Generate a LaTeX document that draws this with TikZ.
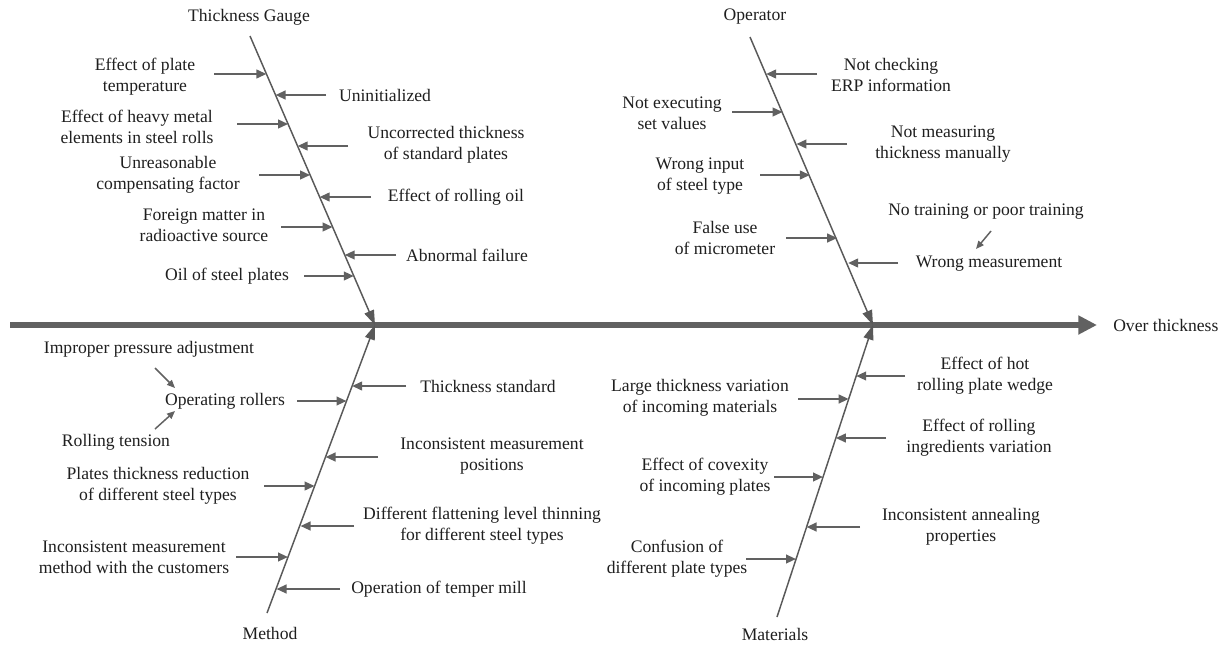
\documentclass[tikz,border=0pt]{standalone}
\usepackage{fontspec}
\setmainfont{Liberation Serif}
\newfontfamily\lbfont{Liberation Serif}
\usetikzlibrary{arrows.meta}
\begin{document}
\begin{tikzpicture}[x=0.75pt,y=-0.75pt,
  lbl/.style={font=\lbfont\fontsize{13.2}{15.75}\selectfont, align=center, inner sep=0pt, text=black!88},
  spine/.style={line width=3.8pt, draw=black!62, -{Triangle[length=14pt,width=13.5pt]}},
  bone/.style={line width=1.1pt, draw=black!65, -{Triangle[length=11pt,width=7.5pt]}},
  cause/.style={line width=1.5pt, draw=black!62, -{Triangle[length=7.5pt,width=6.5pt]}},
  sub/.style={line width=1.1pt, draw=black!62, -{Triangle[length=6pt,width=5pt]}}]
\path[use as bounding box] (0,0) rectangle (1230,646);
\fill[white] (0,0) rectangle (1230,646);

% spine
\coordinate (s0) at (10,325);
\coordinate (s1) at (1097,325);
\coordinate (j1) at (375,325);
\coordinate (j2) at (873,325);
\draw[spine] (s0) -- (s1);
\node[lbl, anchor=west] (effect) at (1113,325) {Over thickness};

% bones
\coordinate (b1) at (250,36);
\coordinate (b2) at (750,37);
\coordinate (b3) at (267,613);
\coordinate (b4) at (777,617);
\draw[bone] (b1) -- (j1);
\draw[bone] (b2) -- (j2);
\draw[bone] (b3) -- (j1);
\draw[bone] (b4) -- (j2);
\node[lbl] (cat1) at (249,17) {Thickness Gauge};
\node[lbl] (cat2) at (755,17) {Operator};
\node[lbl] (cat3) at (270,633) {Method};
\node[lbl] (cat4) at (775,634) {Materials};

% ---- Thickness Gauge
\node[lbl] (g1) at (145,77) {Effect of plate\\temperature};
\coordinate (g1a) at (214,74); \coordinate (g1b) at (266.4,74);
\draw[cause] (g1a) -- (g1b);
\node[lbl] (g2) at (385,95) {Uninitialized};
\coordinate (g2a) at (326,95); \coordinate (g2b) at (275.5,95);
\draw[cause] (g2a) -- (g2b);
\node[lbl] (g3) at (137,127) {Effect of heavy metal\\elements in steel rolls};
\coordinate (g3a) at (237,124); \coordinate (g3b) at (288.1,124);
\draw[cause] (g3a) -- (g3b);
\node[lbl] (g4) at (446,145) {Uncorrected thickness\\of standard plates};
\coordinate (g4a) at (348,146); \coordinate (g4b) at (297.6,146);
\draw[cause] (g4a) -- (g4b);
\node[lbl] (g5) at (168,175) {Unreasonable\\compensating factor};
\coordinate (g5a) at (259,175); \coordinate (g5b) at (310.1,175);
\draw[cause] (g5a) -- (g5b);
\node[lbl] (g6) at (456,197) {Effect of rolling oil};
\coordinate (g6a) at (371,197); \coordinate (g6b) at (319.6,197);
\draw[cause] (g6a) -- (g6b);
\node[lbl] (g7) at (204,225) {Foreign matter in\\radioactive source};
\coordinate (g7a) at (281,227); \coordinate (g7b) at (332.6,227);
\draw[cause] (g7a) -- (g7b);
\node[lbl] (g8) at (467,255) {Abnormal failure};
\coordinate (g8a) at (396,255); \coordinate (g8b) at (344.7,255);
\draw[cause] (g8a) -- (g8b);
\node[lbl] (g9) at (227,276) {Oil of steel plates};
\coordinate (g9a) at (304,276); \coordinate (g9b) at (353.8,276);
\draw[cause] (g9a) -- (g9b);

% ---- Operator
\node[lbl] (o1) at (891,75) {Not checking\\ERP information};
\coordinate (o1a) at (817,74); \coordinate (o1b) at (766.1,74);
\draw[cause] (o1a) -- (o1b);
\node[lbl] (o2) at (672,113) {Not executing\\set values};
\coordinate (o2a) at (732,112); \coordinate (o2b) at (782.6,112);
\draw[cause] (o2a) -- (o2b);
\node[lbl] (o3) at (943,144) {Not measuring\\thickness manually};
\coordinate (o3a) at (847,144); \coordinate (o3b) at (796.4,144);
\draw[cause] (o3a) -- (o3b);
\node[lbl] (o4) at (700,176) {Wrong input\\of steel type};
\coordinate (o4a) at (760,175); \coordinate (o4b) at (809.9,175);
\draw[cause] (o4a) -- (o4b);
\node[lbl] (o5) at (986,212) {No training or poor training};
\node[lbl] (o6) at (725,238) {False use\\of micrometer};
\coordinate (o6a) at (786,238); \coordinate (o6b) at (837.2,238);
\draw[cause] (o6a) -- (o6b);
\node[lbl] (o7) at (989,264) {Wrong measurement};
\coordinate (o7a) at (898,263); \coordinate (o7b) at (848.1,263);
\draw[cause] (o7a) -- (o7b);
\coordinate (o5a) at (991,231); \coordinate (o5b) at (976,249);
\draw[sub] (o5a) -- (o5b);

% ---- Method
\node[lbl] (m1) at (149,349) {Improper pressure adjustment};
\node[lbl] (m2) at (225,401) {Operating rollers};
\coordinate (m2a) at (297,401); \coordinate (m2b) at (346.5,401);
\draw[cause] (m2a) -- (m2b);
\node[lbl] (m3) at (116,442) {Rolling tension};
\coordinate (m1a) at (155,368); \coordinate (m1b) at (175,388);
\draw[sub] (m1a) -- (m1b);
\coordinate (m3a) at (155,429); \coordinate (m3b) at (175,411);
\draw[sub] (m3a) -- (m3b);
\node[lbl] (m4) at (488,386) {Thickness standard};
\coordinate (m4a) at (406,386); \coordinate (m4b) at (352.1,386);
\draw[cause] (m4a) -- (m4b);
\node[lbl] (m5) at (492,456) {Inconsistent measurement\\positions};
\coordinate (m5a) at (378,457); \coordinate (m5b) at (325.5,457);
\draw[cause] (m5a) -- (m5b);
\node[lbl] (m6) at (158,486) {Plates thickness reduction\\of different steel types};
\coordinate (m6a) at (264,486); \coordinate (m6b) at (314.6,486);
\draw[cause] (m6a) -- (m6b);
\node[lbl] (m7) at (482,526) {Different flattening level thinning\\for different steel types};
\coordinate (m7a) at (354,526); \coordinate (m7b) at (300.5,526);
\draw[cause] (m7a) -- (m7b);
\node[lbl] (m8) at (134,557) {Inconsistent measurement\\method with the customers};
\coordinate (m8a) at (236,557); \coordinate (m8b) at (288,557);
\draw[cause] (m8a) -- (m8b);
\node[lbl] (m9) at (439,589) {Operation of temper mill};
\coordinate (m9a) at (340,589); \coordinate (m9b) at (276.5,589);
\draw[cause] (m9a) -- (m9b);

% ---- Materials
\node[lbl] (t1) at (985,376) {Effect of hot\\rolling plate wedge};
\coordinate (t1a) at (905,376); \coordinate (t1b) at (856.2,376);
\draw[cause] (t1a) -- (t1b);
\node[lbl] (t2) at (700,398) {Large thickness variation\\of incoming materials};
\coordinate (t2a) at (798,399); \coordinate (t2b) at (848.7,399);
\draw[cause] (t2a) -- (t2b);
\node[lbl] (t3) at (979,438) {Effect of rolling\\ingredients variation};
\coordinate (t3a) at (886,438); \coordinate (t3b) at (835.8,438);
\draw[cause] (t3a) -- (t3b);
\node[lbl] (t4) at (705,477) {Effect of covexity\\of incoming plates};
\coordinate (t4a) at (774,477); \coordinate (t4b) at (823,477);
\draw[cause] (t4a) -- (t4b);
\node[lbl] (t5) at (961,527) {Inconsistent annealing\\properties};
\coordinate (t5a) at (860,527); \coordinate (t5b) at (806.5,527);
\draw[cause] (t5a) -- (t5b);
\node[lbl] (t6) at (677,559) {Confusion of\\different plate types};
\coordinate (t6a) at (746,559); \coordinate (t6b) at (796,559);
\draw[cause] (t6a) -- (t6b);
\end{tikzpicture}
\end{document}
